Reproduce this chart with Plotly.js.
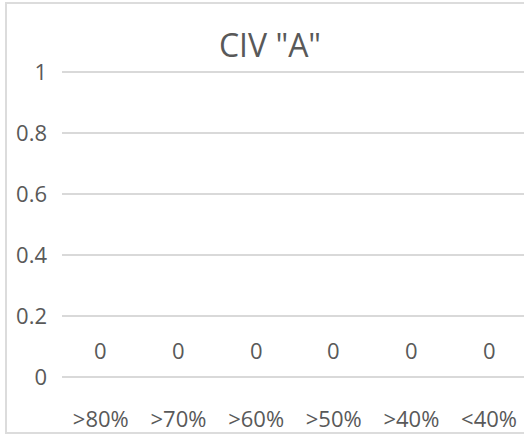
<!DOCTYPE html>
<html>
<head>
<meta charset="utf-8">
<script src="https://cdn.plot.ly/plotly-3.0.1.min.js"></script>
<style>
html,body{margin:0;padding:0;background:#fff;overflow:hidden;}
#wrap{position:relative;width:524px;height:434px;overflow:hidden;}
#chart{position:absolute;left:0;top:0;width:524px;height:434px;}
#frame{position:absolute;left:5px;top:2px;width:600px;height:428px;border:2px solid #dcdcdc;pointer-events:none;}
</style>
</head>
<body>
<div id="wrap"><div id="chart"></div><div id="frame"></div></div>
<script>
const chartTitle = 'CIV "A"';
const categories = [">80%", ">70%", ">60%", ">50%", ">40%", "<40%"];
const values = [0, 0, 0, 0, 0, 0];
const yTicks = [0, 0.2, 0.4, 0.6, 0.8, 1];
const yTickLabels = ["0", "0.2", "0.4", "0.6", "0.8", "1"];

const font = "Open Sans, Segoe UI, sans-serif";
const grey = "#595959";

const trace = {
  type: "bar",
  x: categories,
  y: values,
  marker: {color: "#4472c4"},
  hoverinfo: "skip"
};

const annotations = categories.map((c, i) => ({
  x: c, y: values[i], xref: "x", yref: "y",
  text: String(values[i]), showarrow: false,
  yanchor: "middle", xanchor: "center", yshift: 27,
  font: {family: font, size: 22, color: grey}
}));

const layout = {
  width: 524, height: 434,
  margin: {l: 62, r: 0, t: 69, b: 54},
  paper_bgcolor: "rgba(0,0,0,0)",
  plot_bgcolor: "rgba(0,0,0,0)",
  showlegend: false,
  title: {
    text: chartTitle, xref: "container", yref: "container",
    x: 270/524, xanchor: "center", y: 1 - 46/434, yanchor: "middle",
    font: {family: font, size: 32, color: grey}
  },
  xaxis: {
    type: "category", range: [-0.5, 5.45],
    showgrid: false, zeroline: false, showline: false, ticks: "",
    ticklabelstandoff: 24,
    tickfont: {family: font, size: 22, color: grey}
  },
  yaxis: {
    range: [-0.01, 1.01], tickvals: yTicks, ticktext: yTickLabels,
    showgrid: true, gridcolor: "#d9d9d9", gridwidth: 1.5,
    zeroline: false, showline: false, ticks: "",
    ticklabelstandoff: 14,
    tickfont: {family: font, size: 22, color: grey}
  },
  annotations: annotations
};

Plotly.newPlot("chart", [trace], layout, {staticPlot: true, displayModeBar: false});
</script>
</body>
</html>
